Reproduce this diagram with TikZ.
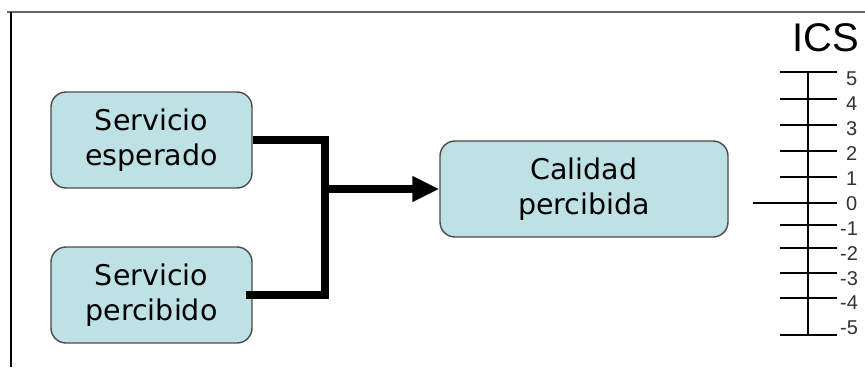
\documentclass[tikz,border=0pt]{standalone}
\usepackage{fontspec}
\setmainfont{DejaVu Sans}
\newfontfamily\arialfont{Liberation Sans}
\usetikzlibrary{arrows.meta}
\definecolor{boxfill}{HTML}{BDE1E4}
\definecolor{boxline}{HTML}{4A4A4A}
\definecolor{scalelabel}{HTML}{333333}
\tikzset{
  block/.style={draw=boxline, line width=1.4pt, fill=boxfill, rounded corners=15pt,
    minimum width=201pt, minimum height=96pt, align=center, inner sep=0pt,
    font=\fontsize{28.5}{35}\selectfont},
  conn/.style={line width=8.5pt, draw=black},
  axisline/.style={line width=2.6pt, draw=black},
  ticklabel/.style={anchor=west, inner sep=0pt, text=scalelabel,
    font=\arialfont\fontsize{20}{20}\selectfont}
}
\begin{document}
\begin{tikzpicture}[x=1pt, y=-1pt]
\useasboundingbox (0,0) rectangle (865,367);
\fill[white] (0,0) rectangle (865,367);
% frame
\draw[draw=gray!80!black, line width=2pt] (7,12) -- (865,12);
\draw[line width=1.5pt] (11,12) -- (11,367);

% blocks
\node[block] (esp) at (151.5,140) {Servicio\\esperado};
\node[block] (per) at (151.5,295) {Servicio\\percibido};
\node[block, minimum width=288pt] (cal) at (584,189) {Calidad\\percibida};

% connectors
\coordinate (j) at (325,189);
\draw[conn] (esp.east) -| ([yshift=-4pt]j);
\draw[conn] ([xshift=-7pt]per.east) -| ([yshift=9pt]j);
\draw[conn, -{Triangle[length=27pt,width=24pt]}] (j) -- (cal.west);

% ICS scale
\node[anchor=south east, inner sep=0pt, font=\arialfont\fontsize{40}{40}\selectfont] (ics) at (859,52) {ICS};
\coordinate (top) at (808,72);
\coordinate (bot) at (808,335);
\draw[axisline] (top) -- (bot);
\foreach \v/\yy in {5/72,4/99,3/125,2/151,1/177,-1/225,-2/248,-3/273,-4/298,-5/335}
  \draw[axisline] (780,\yy) -- (837,\yy);
\draw[axisline] (753,203) -- (837,203);
\foreach \v [count=\i from 0] in {5,4,3,2,1,0,-1,-2,-3,-4,-5}
  \node[ticklabel] (lab\i) at ({\v<0 ? 840 : 846}, {79+24.9*\i}) {\v};
\end{tikzpicture}
\end{document}
